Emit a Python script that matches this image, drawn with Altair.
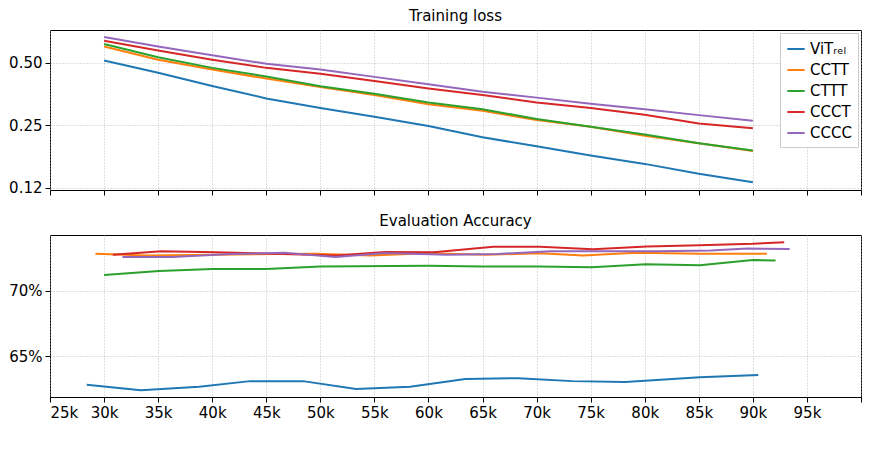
import altair as alt
import pandas as pd

series = ['ViTᵣₑₗ', 'CCTT', 'CTTT', 'CCCT', 'CCCC']
colors = ['#1f77b4', '#ff7f0e', '#2ca02c', '#d62728', '#9467bd']

# training loss, every 5k steps from 30k to 90k
loss_steps = [30000, 35000, 40000, 45000, 50000, 55000, 60000, 65000, 70000, 75000, 80000, 85000, 90000]
loss_vit = [0.513, 0.448, 0.387, 0.337, 0.303, 0.275, 0.248, 0.219, 0.198, 0.179, 0.163, 0.146, 0.133]
loss_cctt = [0.600, 0.518, 0.464, 0.420, 0.382, 0.350, 0.316, 0.294, 0.265, 0.246, 0.223, 0.205, 0.188]
loss_cttt = [0.616, 0.532, 0.473, 0.430, 0.386, 0.355, 0.322, 0.299, 0.268, 0.246, 0.226, 0.205, 0.189]
loss_ccct = [0.639, 0.573, 0.518, 0.473, 0.443, 0.409, 0.376, 0.350, 0.322, 0.303, 0.281, 0.255, 0.242]
loss_cccc = [0.666, 0.600, 0.544, 0.495, 0.464, 0.428, 0.394, 0.363, 0.340, 0.318, 0.299, 0.280, 0.263]

# evaluation accuracy (%), each run has its own eval steps
acc_vit_x = [28400, 33400, 38800, 43500, 48400, 53300, 58300, 63400, 68300, 73300, 78200, 85100, 90500]
acc_vit = [62.8, 62.37, 62.63, 63.07, 63.07, 62.47, 62.63, 63.23, 63.3, 63.07, 63.0, 63.36, 63.54]
acc_cctt_x = [29200, 33900, 40300, 45700, 49600, 54600, 60000, 65400, 70300, 74300, 79200, 85100, 91300]
acc_cctt = [72.86, 72.73, 72.79, 72.84, 72.86, 72.73, 72.89, 72.79, 72.89, 72.73, 72.94, 72.86, 72.86]
acc_cttt_x = [30000, 35100, 40000, 45000, 50000, 60000, 65000, 70200, 75100, 80100, 85100, 90000, 92100]
acc_cttt = [71.22, 71.54, 71.69, 71.69, 71.88, 71.93, 71.88, 71.88, 71.82, 72.06, 71.98, 72.37, 72.34]
acc_ccct_x = [30800, 35300, 40300, 45700, 51400, 56000, 60500, 66000, 70300, 75200, 80200, 85100, 90000, 92900]
acc_ccct = [72.79, 73.05, 72.97, 72.86, 72.73, 72.99, 72.97, 73.39, 73.39, 73.2, 73.41, 73.52, 73.62, 73.75]
acc_cccc_x = [31700, 36300, 41700, 46700, 51400, 56000, 61700, 66400, 71300, 76200, 81200, 86100, 89500, 93400]
acc_cccc = [72.6, 72.6, 72.84, 72.94, 72.6, 72.92, 72.79, 72.84, 73.05, 73.05, 73.05, 73.1, 73.26, 73.23]

loss_rows = []
for name, vals in zip(series, [loss_vit, loss_cctt, loss_cttt, loss_ccct, loss_cccc]):
    for s, v in zip(loss_steps, vals):
        loss_rows.append({'step': s, 'value': v, 'model': name})
loss_df = pd.DataFrame(loss_rows)

acc_rows = []
for name, xs, vals in zip(series,
                          [acc_vit_x, acc_cctt_x, acc_cttt_x, acc_ccct_x, acc_cccc_x],
                          [acc_vit, acc_cctt, acc_cttt, acc_ccct, acc_cccc]):
    for s, v in zip(xs, vals):
        acc_rows.append({'step': s, 'value': v, 'model': name})
acc_df = pd.DataFrame(acc_rows)

x_ticks = list(range(25000, 100001, 5000))
color = alt.Color('model:N', scale=alt.Scale(domain=series, range=colors), sort=series,
                  legend=alt.Legend(title=None, orient='top-right', fillColor='white',
                                    strokeColor='#cccccc', padding=6, symbolType='stroke',
                                    symbolStrokeWidth=2, symbolSize=300, labelFontSize=15,
                                    rowPadding=3, offset=3, labelFont='DejaVu Sans'))
color_nolegend = alt.Color('model:N', scale=alt.Scale(domain=series, range=colors), legend=None)

top = alt.Chart(loss_df, title=alt.Title('Training loss', fontWeight='normal')).mark_line(strokeWidth=2).encode(
    x=alt.X('step:Q', scale=alt.Scale(domain=[25000, 100000], nice=False),
            axis=alt.Axis(values=x_ticks, labels=False, title=None)),
    y=alt.Y('value:Q', scale=alt.Scale(type='log', domain=[0.122, 0.72], nice=False),
            axis=alt.Axis(values=[0.125, 0.25, 0.5], title=None,
                          labelExpr="datum.value == 0.125 ? '0.12' : format(datum.value, '.2f')")),
    color=color,
).properties(width=811, height=160)

bottom = alt.Chart(acc_df, title=alt.Title('Evaluation Accuracy', fontWeight='normal')).mark_line(strokeWidth=2).encode(
    x=alt.X('step:Q', scale=alt.Scale(domain=[25000, 100000], nice=False),
            axis=alt.Axis(values=x_ticks, title=None,
                          labelExpr="datum.value >= 100000 ? '' : (datum.value / 1000) + 'k'")),
    y=alt.Y('value:Q', scale=alt.Scale(domain=[61.85, 74.3], nice=False, zero=False),
            axis=alt.Axis(values=[65, 70], title=None, labelExpr="datum.value + '%'")),
    color=color_nolegend,
).properties(width=811, height=162)

chart = alt.vconcat(top, bottom, spacing=16).properties(
    padding={'left': 0, 'top': 0, 'right': 5, 'bottom': 5}
).configure_view(
    stroke='black', strokeWidth=1
).configure_axis(
    labelFont='DejaVu Sans', labelFontSize=15, labelColor='black',
    grid=True, gridColor='#b0b0b0', gridDash=[1, 2], gridWidth=0.8,
    domain=False, tickColor='black', tickSize=5, labelPadding=3
).configure_title(
    font='DejaVu Sans', fontSize=15, fontWeight='normal', offset=6, color='black'
)

chart.save('out.html', embed_options={'renderer': 'svg', 'actions': False})
